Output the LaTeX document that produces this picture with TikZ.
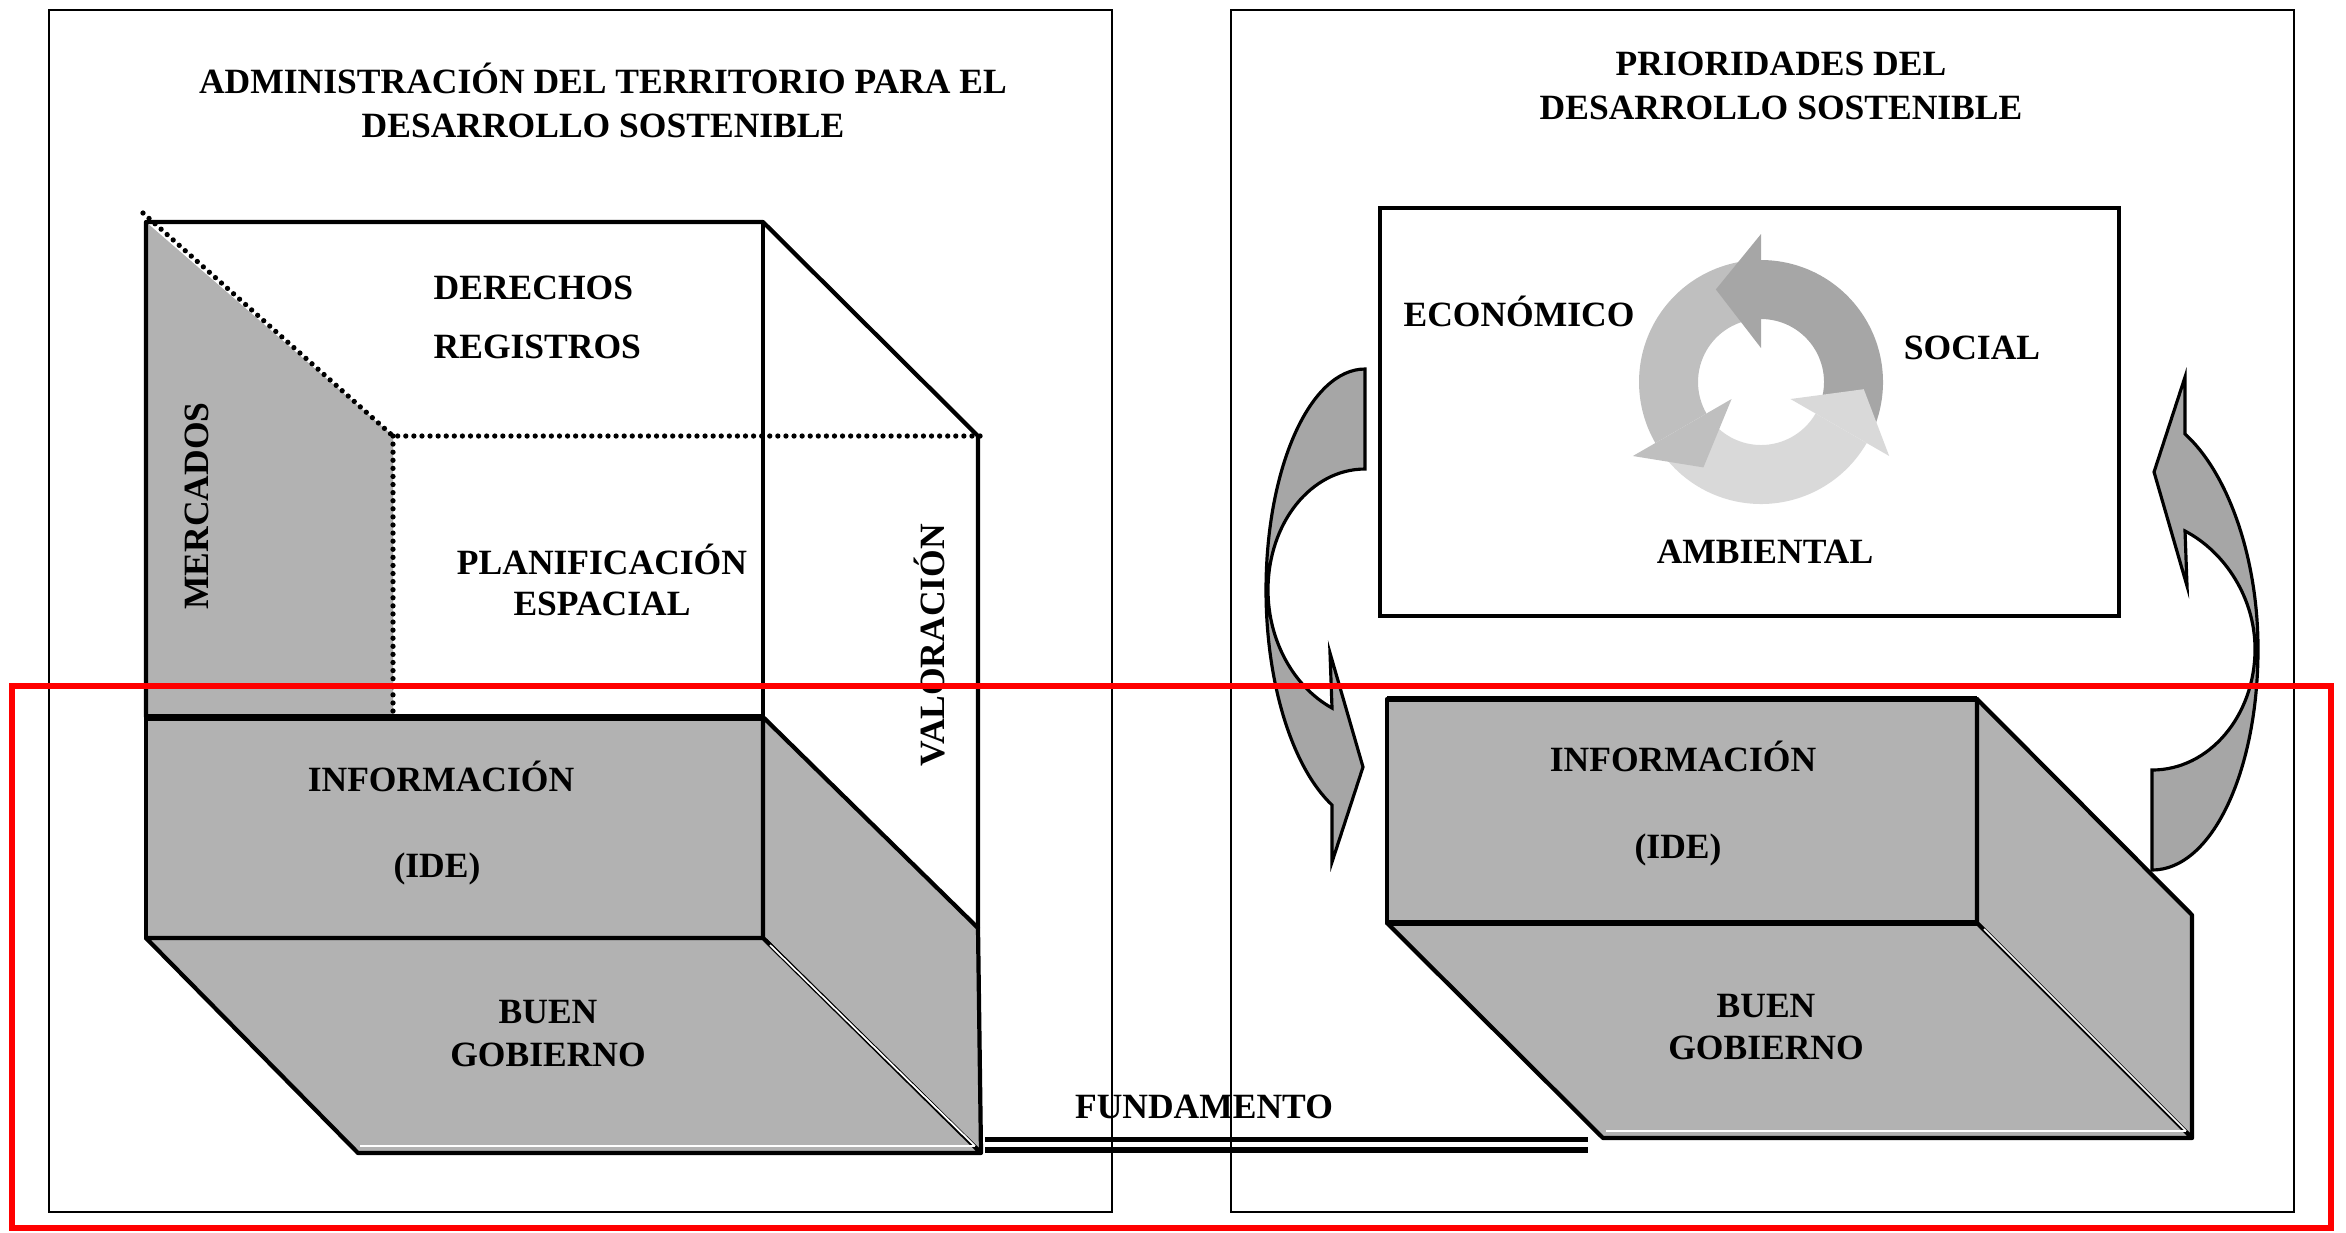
\documentclass[tikz,border=0pt]{standalone}
\usepackage{fontspec}
\setmainfont{Liberation Serif}
\definecolor{cubegray}{HTML}{B2B2B2}
\definecolor{arrowgray}{HTML}{A6A6A6}
\definecolor{ringdark}{HTML}{A6A6A6}
\definecolor{ringmid}{HTML}{BFBFBF}
\definecolor{ringlight}{HTML}{D9D9D9}
\begin{document}
\begin{tikzpicture}[x=0.01cm,y=-0.01cm,
  txt/.style={font=\fontsize{10.1}{12}\selectfont\bfseries, inner sep=0pt, text height=6.7pt, text depth=0pt},
  edge/.style={line width=1.2pt, line join=round},
  panel/.style={line width=0.75pt},
  dotline/.style={line width=1.5pt, line cap=round, dash pattern=on 0pt off 2.3pt},
  face/.style={fill=cubegray, draw=black, line width=1.2pt, line join=round},
  bigarrow/.style={fill=arrowgray, draw=black, line width=0.9pt, line join=miter},
]
\useasboundingbox (0,0) rectangle (2346,1232);

% panels
\draw[panel] (49,10) rectangle (1112,1212);
\draw[panel] (1231,10) rectangle (2294,1212);

% titles
\node[txt] (tL1) at (603,82) {ADMINISTRACIÓN DEL TERRITORIO PARA EL};
\node[txt] (tL2) at (603,126) {DESARROLLO SOSTENIBLE};
\node[txt] (tR1) at (1781,64) {PRIORIDADES DEL};
\node[txt] (tR2) at (1781,108) {DESARROLLO SOSTENIBLE};

% ---------- left cube ----------
\coordinate (A) at (146,222);
\coordinate (B) at (763,222);
\coordinate (C) at (978,436);
\coordinate (D) at (393,436);
\coordinate (Dd) at (393,717);
\coordinate (E) at (146,717);
\coordinate (F) at (763,717);
\coordinate (G) at (978,928);
\coordinate (H) at (146,938);
\coordinate (I) at (763,938);
\coordinate (J) at (981,1153);
\coordinate (K) at (358,1153);
\coordinate (Dstart) at (143,213);
\coordinate (Dend) at (984,436);

\fill[cubegray] (A) -- (D) -- (Dd) -- (E) -- cycle;
\draw[dotline] (Dstart) -- (D) -- (Dend);
\draw[dotline] (D) -- (Dd);
\draw[edge] (E) -- (A) -- (B) -- (C) -- (G);
\draw[edge] (B) -- (F);

\draw[face] (E) rectangle (I);
\draw[face] (F) -- (G) -- (J) -- (I) -- cycle;
\draw[face] (H) -- (I) -- (J) -- (K) -- cycle;
\draw[line width=2pt] (E) -- (F);
\draw[white, line width=0.5pt] (360,1146) -- (975,1146);
\draw[white, line width=0.5pt] (770,945) -- (975,1146);

\node[txt, anchor=west] (der) at (433,288) {DERECHOS};
\node[txt, anchor=west] (reg) at (433,347) {REGISTROS};
\node[txt] (plan) at (602,563) {PLANIFICACIÓN};
\node[txt] (esp) at (602,604) {ESPACIAL};
\node[txt, rotate=90] (merc) at (197,506) {MERCADOS};
\node[txt, rotate=90] (val) at (933,645) {VALORACIÓN};
\node[txt] (infL) at (441,780) {INFORMACIÓN};
\node[txt] (ideL) at (437,866) {(IDE)};
\node[txt] (buenL) at (548,1012) {BUEN};
\node[txt] (gobL) at (548,1055) {GOBIERNO};

% fundamento
\node[txt] (fund) at (1204,1107) {FUNDAMENTO};
\coordinate (f1a) at (985,1139.5);
\coordinate (f1b) at (1588,1139.5);
\coordinate (f2a) at (985,1150);
\coordinate (f2b) at (1588,1150);
\draw[line width=1.6pt] (f1a) -- (f1b);
\draw[line width=1.6pt] (f2a) -- (f2b);

% ---------- right panel ----------
\draw[line width=0.9pt] (1380,208) rectangle (2119,616);
\node[txt] (eco) at (1519,315) {ECONÓMICO};
\node[txt] (soc) at (1972,348) {SOCIAL};
\node[txt] (amb) at (1765,552) {AMBIENTAL};

% cycle arrows
\begin{scope}[shift={(1761,382)}, yscale=-1]
  \foreach \b/\c in {90/ringdark, 210/ringmid, 330/ringlight}{
    \fill[\c] (\b-112:122) arc[start angle=\b-112, end angle=\b, radius=122]
      -- (\b:63) arc[start angle=\b, end angle=\b-112, radius=63] -- cycle;
  }
  \foreach \b/\c in {90/ringdark, 210/ringmid, 330/ringlight}{
    \fill[\c] (\b:34) -- (\b:148) -- (\b+26:103) -- cycle;
  }
\end{scope}

% side curved arrows
\draw[bigarrow] (1365,369) .. controls (1310,369) and (1266,468) .. (1266,590)
  .. controls (1266,683) and (1292,767) .. (1332,805) -- (1332,862) -- (1363,767)
  -- (1330,653) -- (1332,708) .. controls (1294,687) and (1268,641) .. (1268,590)
  .. controls (1268,523) and (1311,469) .. (1365,469) -- cycle;
\begin{scope}[rotate around={180:(1758.5,619.5)}]
\draw[bigarrow] (1365,369) .. controls (1305,369) and (1259,468) .. (1259,590)
  .. controls (1259,683) and (1290,767) .. (1332,805) -- (1332,862) -- (1363,767)
  -- (1330,653) -- (1332,708) .. controls (1292,687) and (1262,641) .. (1262,590)
  .. controls (1262,523) and (1308,469) .. (1365,469) -- cycle;
\end{scope}

% right cube
\coordinate (P) at (1387,699);
\coordinate (Q) at (1977,699);
\coordinate (R) at (2192,915);
\coordinate (S) at (1387,923);
\coordinate (T) at (1977,923);
\coordinate (U) at (2192,1138);
\coordinate (V) at (1603,1138);
\draw[face] (P) rectangle (T);
\draw[face] (Q) -- (R) -- (U) -- (T) -- cycle;
\draw[face] (S) -- (T) -- (U) -- (V) -- cycle;
\draw[line width=1.8pt] (P) -- (Q);
\draw[line width=1.8pt] (S) -- (T);
\draw[white, line width=0.5pt] (1606,1131) -- (2186,1131);
\draw[white, line width=0.5pt] (1984,929) -- (2186,1131);

\node[txt] (infR) at (1683,760) {INFORMACIÓN};
\node[txt] (ideR) at (1678,847) {(IDE)};
\node[txt] (buenR) at (1766,1006) {BUEN};
\node[txt] (gobR) at (1766,1048) {GOBIERNO};

% red highlight frame
\draw[red, line width=1.7pt] (12,686) rectangle (2331,1228);
\end{tikzpicture}
\end{document}
